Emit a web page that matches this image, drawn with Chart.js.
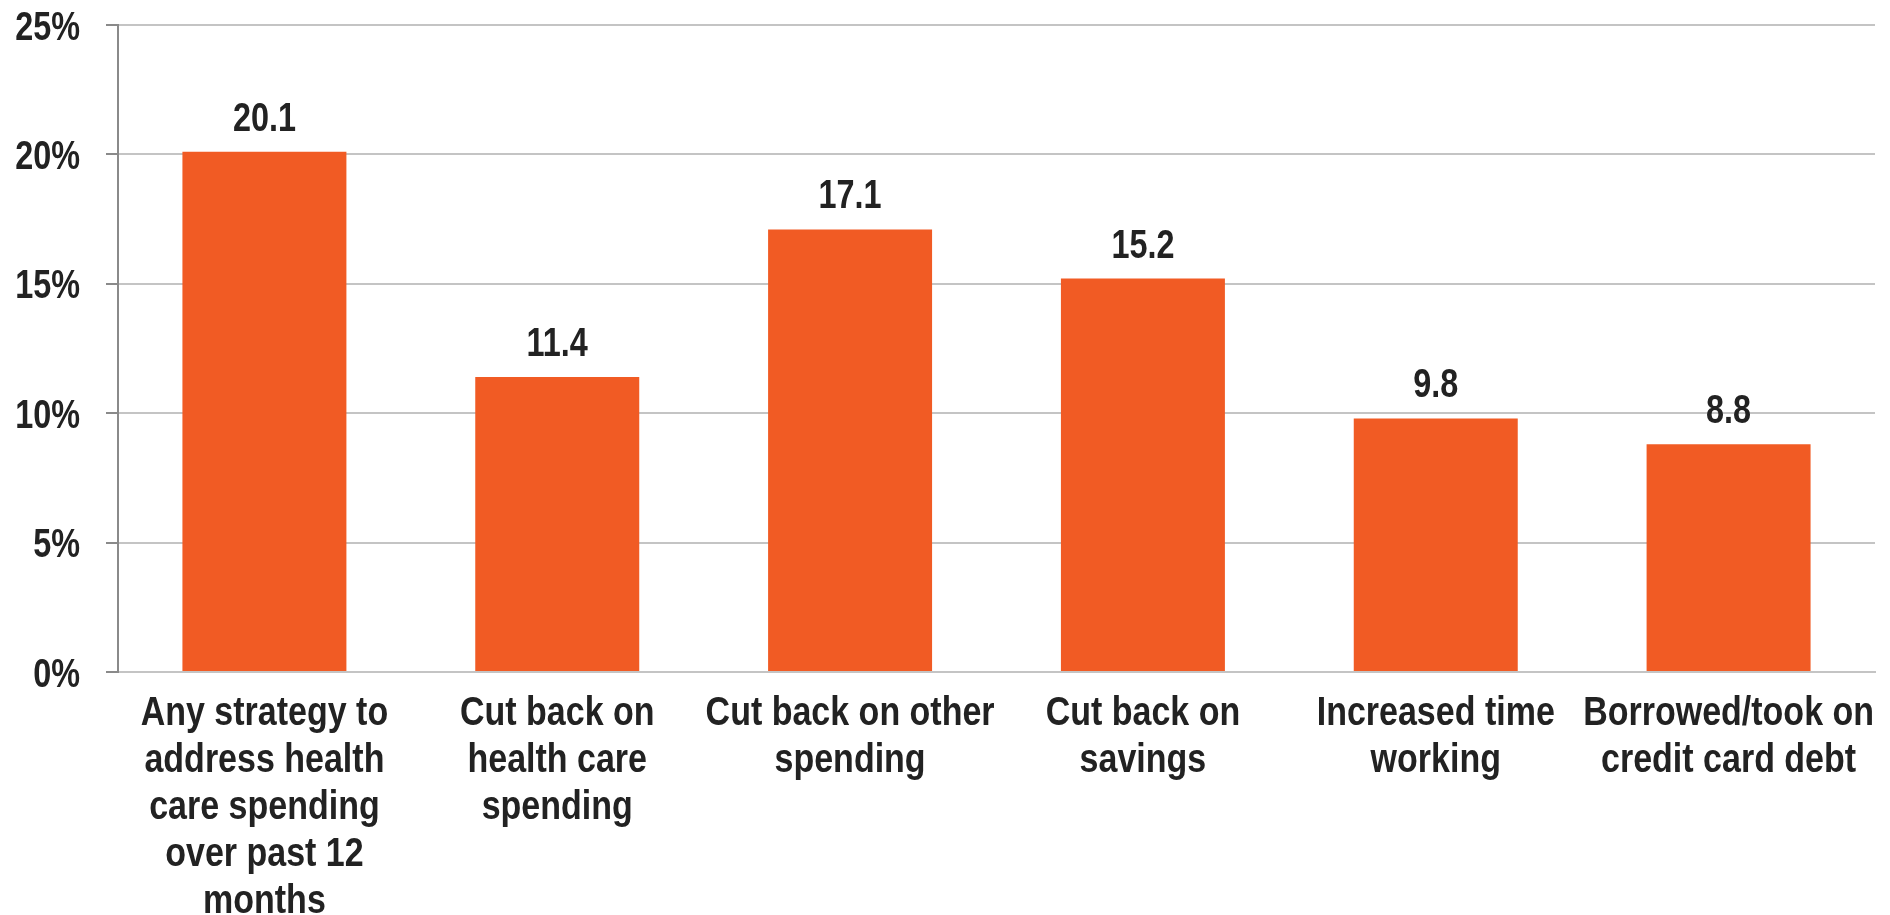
<!DOCTYPE html>
<html>
<head>
<meta charset="utf-8">
<script src="https://cdn.jsdelivr.net/npm/chart.js@4/dist/chart.umd.min.js"></script>
<style>
  html, body { margin: 0; padding: 0; background: #fff; }
  #wrap { width: 1890px; height: 915px; }
</style>
</head>
<body>
<div id="wrap"><canvas id="barChart"></canvas></div>
<script>
// Dữ liệu biểu đồ
const categories = [
    ['Any strategy to', 'address health', 'care spending', 'over past 12', 'months'],
    ['Cut back on', 'health care', 'spending'],
    ['Cut back on other', 'spending'],
    ['Cut back on', 'savings'],
    ['Increased time', 'working'],
    ['Borrowed/took on', 'credit card debt']
];
const values = [20.1, 11.4, 17.1, 15.2, 9.8, 8.8];
const yTicks = [0, 5, 10, 15, 20, 25];

// Font hẹp (giả lập Arial Narrow bằng cách co ngang)
const FONT = 'bold 40px "Liberation Sans", Arial, sans-serif';
const NARROW_NUM = 0.81;   // co ngang cho số
const NARROW_TXT = 0.85;   // co ngang cho chữ
const CAP = 29;            // chiều cao chữ hoa
const LINE_H = 47;         // khoảng cách dòng nhãn trục x
const TEXT = '#222222';

function narrowText(ctx, text, x, y, align, k) {
    ctx.save();
    ctx.translate(x, y);
    ctx.scale(k, 1);
    ctx.textAlign = align;
    ctx.fillText(text, 0, 0);
    ctx.restore();
}

// Plugin vẽ nhãn trục và nhãn giá trị
const textLabels = {
    id: 'textLabels',
    afterDraw(chart) {
        const ctx = chart.ctx;
        const xs = chart.scales.x;
        const ys = chart.scales.y;
        ctx.save();
        ctx.font = FONT;
        ctx.fillStyle = TEXT;
        ctx.textBaseline = 'alphabetic';

        // Nhãn trục y
        yTicks.forEach(v => {
            narrowText(ctx, v + '%', ys.right - 38, ys.getPixelForValue(v) + CAP / 2, 'right', NARROW_NUM);
        });

        // Nhãn trục x
        categories.forEach((lines, i) => {
            const cx = xs.getPixelForValue(i);
            lines.forEach((line, j) => {
                narrowText(ctx, line, cx, xs.top + 53 + j * LINE_H, 'center', NARROW_TXT);
            });
        });

        // Nhãn giá trị trên cột
        chart.getDatasetMeta(0).data.forEach((bar, i) => {
            narrowText(ctx, values[i].toFixed(1), bar.x, bar.y - 21, 'center', NARROW_NUM);
        });
        ctx.restore();
    }
};

const barCtx = document.getElementById('barChart').getContext('2d');
const barChart = new Chart(barCtx, {
    type: 'bar',
    data: {
        labels: categories,
        datasets: [{
            data: values,
            backgroundColor: '#F15B24',
            borderWidth: 0,
            categoryPercentage: 1,
            barPercentage: 0.56
        }]
    },
    options: {
        responsive: true,
        maintainAspectRatio: false,
        animation: false,
        layout: {
            padding: { top: 25, right: 15, bottom: 0, left: 0 }
        },
        plugins: {
            legend: { display: false },
            tooltip: { enabled: false }
        },
        scales: {
            x: {
                grid: { display: false },
                border: { display: true, color: '#c4c4c4', width: 2 },
                ticks: { display: false },
                afterFit(scale) {
                    scale.height = 243;
                    scale.paddingLeft = 0;
                    scale.paddingRight = 0;
                }
            },
            y: {
                min: 0,
                max: 25,
                afterBuildTicks(scale) {
                    scale.ticks = yTicks.map(v => ({ value: v }));
                },
                grid: {
                    color: '#c4c4c4',
                    lineWidth: 2,
                    tickColor: '#8a8a8a',
                    tickLength: 12
                },
                border: { display: true, color: '#8a8a8a', width: 2 },
                ticks: { display: false },
                afterFit(scale) {
                    scale.width = 118;
                    scale.paddingTop = 0;
                    scale.paddingBottom = 0;
                }
            }
        }
    },
    plugins: [textLabels]
});
</script>
</body>
</html>
